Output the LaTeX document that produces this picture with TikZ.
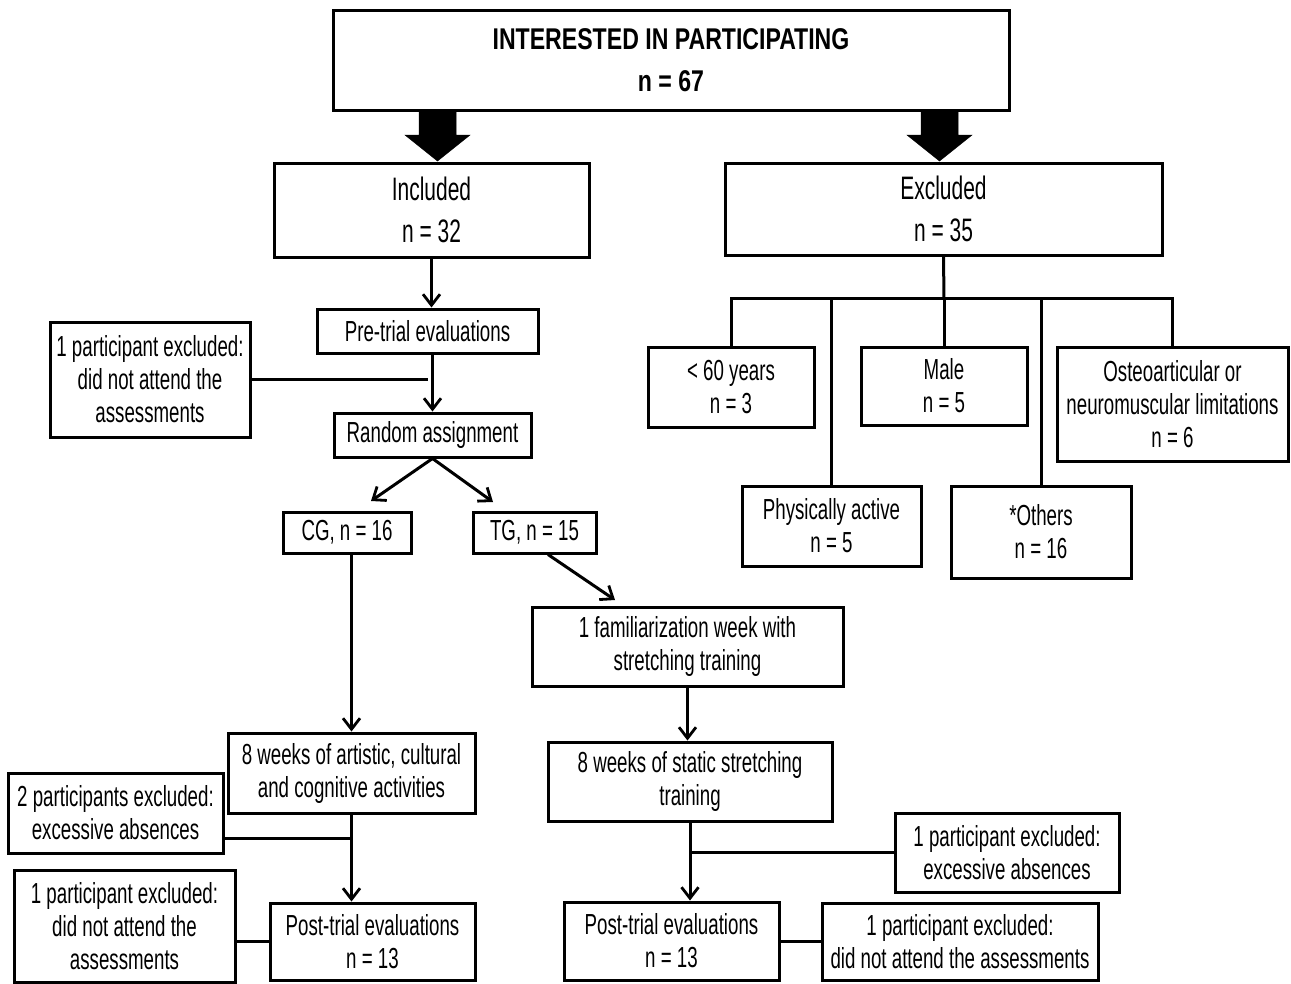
\documentclass[tikz,border=0pt]{standalone}
\usepackage{fontspec}
\setmainfont[FakeStretch=0.645]{Liberation Sans}
\newfontfamily\titlefont[FakeStretch=0.77]{Liberation Sans}
\usetikzlibrary{arrows.meta}
\begin{document}
\begin{tikzpicture}[x=1pt,y=-1pt,
  box/.style={draw, line width=3pt, inner sep=0pt, align=center, font=\fontsize{29}{33}\selectfont},
  bigbox/.style={box, font=\fontsize{32.5}{42}\selectfont},
  titlebox/.style={box, font=\titlefont\fontsize{30}{42}\selectfont\bfseries},
  line/.style={line width=3pt},
  arr/.style={line width=3pt, -{Straight Barb[length=11pt,width=17pt,line width=2.8pt]}},
  blockarrow/.style={fill=black, draw=black, line width=0.5pt}
]
\useasboundingbox[fill=white] (0,0) rectangle (1291,983);

% top level
\node[titlebox, minimum width=676pt, minimum height=100pt] (top) at (671,60) {INTERESTED IN PARTICIPATING\\n = 67};
\node[bigbox, minimum width=315pt, minimum height=94pt] (incl) at (431.5,210) {Included\\n = 32};
\node[bigbox, minimum width=437pt, minimum height=92pt] (excl) at (943.5,209) {Excluded\\n = 35};

% block arrows
\fill[blockarrow] (419,112) -- (456,112) -- (456,135) -- (470,135) -- (437.5,161) -- (405,135) -- (419,135) -- cycle;
\fill[blockarrow] (921,112) -- (958,112) -- (958,135) -- (972,135) -- (939.5,161) -- (907,135) -- (921,135) -- cycle;

% left branch
\node[box, minimum width=221pt, minimum height=44pt] (pre) at (427.5,331) {Pre-trial evaluations};
\node[box, minimum width=200pt, minimum height=115pt] (side1) at (150,379.5) {1 participant excluded:\\did not attend the\\assessments};
\node[box, minimum width=197pt, minimum height=44pt] (rand) at (432.5,435) {Random assignment};
\node[box, minimum width=128pt, minimum height=41pt] (cg) at (347,532.5) {CG, n = 16};
\node[box, minimum width=123pt, minimum height=41pt] (tg) at (534.5,532.5) {TG, n = 15};

\node[box, minimum width=311pt, minimum height=79pt] (fam) at (687.5,646.5) {1 familiarization week with\\stretching training};
\node[box, minimum width=284pt, minimum height=79pt] (stat) at (690,781.5) {8 weeks of static stretching\\training};
\node[box, minimum width=224pt, minimum height=79pt] (side3) at (1007,852.5) {1 participant excluded:\\excessive absences};
\node[box, minimum width=215pt, minimum height=78pt] (post2) at (671.5,941) {Post-trial evaluations\\n = 13};
\node[box, minimum width=276pt, minimum height=77pt] (side4) at (960,941.5) {1 participant excluded:\\did not attend the assessments};

\node[box, minimum width=247pt, minimum height=80pt] (art) at (351.5,773) {8 weeks of artistic, cultural\\and cognitive activities};
\node[box, minimum width=215pt, minimum height=80pt] (side2) at (115.5,813) {2 participants excluded:\\excessive absences};
\node[box, minimum width=205pt, minimum height=77pt] (post1) at (372.5,941.5) {Post-trial evaluations\\n = 13};
\node[box, minimum width=221pt, minimum height=112pt] (side5) at (124.5,926) {1 participant excluded:\\did not attend the\\assessments};

% exclusion reasons
\node[box, minimum width=166pt, minimum height=80pt] (age) at (731,387) {< 60 years\\n = 3};
\node[box, minimum width=166pt, minimum height=78pt] (male) at (944,386) {Male\\n = 5};
\node[box, minimum width=231pt, minimum height=114pt] (osteo) at (1172.5,404) {Osteoarticular or\\neuromuscular limitations\\n = 6};
\node[box, minimum width=179pt, minimum height=80pt] (phys) at (831.5,526) {Physically active\\n = 5};
\node[box, minimum width=180pt, minimum height=92pt] (others) at (1041,532) {*Others\\n = 16};

% coordinates for free ends
\coordinate (bus) at (944,298);
\coordinate (cgtip) at (371,501);
\coordinate (tgtip) at (493,502);
\coordinate (famtip) at (615,600);

% left connectors
\draw[arr] (incl.south) -- (incl.south |- pre.north);
\draw[line] (side1.east) -- (side1.east -| pre.south);
\draw[arr] (pre.south -| rand.north) -- (rand.north);
\draw[arr] (rand.south) -- (cgtip);
\draw[arr] (rand.south) -- (tgtip);
\draw[arr] (cg.south -| art.north) -- (art.north);
\draw[arr] ([xshift=13.5pt]tg.south) -- (famtip);
\draw[arr] (fam.south) -- (fam.south |- stat.north);
\draw[arr] (stat.south) -- (stat.south |- post2.north);
\draw[line] (side3.west) -- (side3.west -| stat.south);
\draw[line] (post2.east) -- (post2.east -| side4.west);
\draw[arr] (art.south) -- (art.south |- post1.north);
\draw[line] ([yshift=-25pt]side2.east) -- ([yshift=-25pt]side2.east -| art.south);
\draw[line] (post1.west) -- (post1.west -| side5.east);

% exclusion tree
\draw[line] (excl.south) -- (bus);
\draw[line, line cap=rect] (age.north |- bus) -- (osteo.north |- bus);
\draw[line] (age.north |- bus) -- (age.north);
\draw[line] (phys.north |- bus) -- (phys.north);
\draw[line] (male.north |- bus) -- (male.north);
\draw[line] (others.north |- bus) -- (others.north);
\draw[line] (osteo.north |- bus) -- (osteo.north);
\end{tikzpicture}
\end{document}
